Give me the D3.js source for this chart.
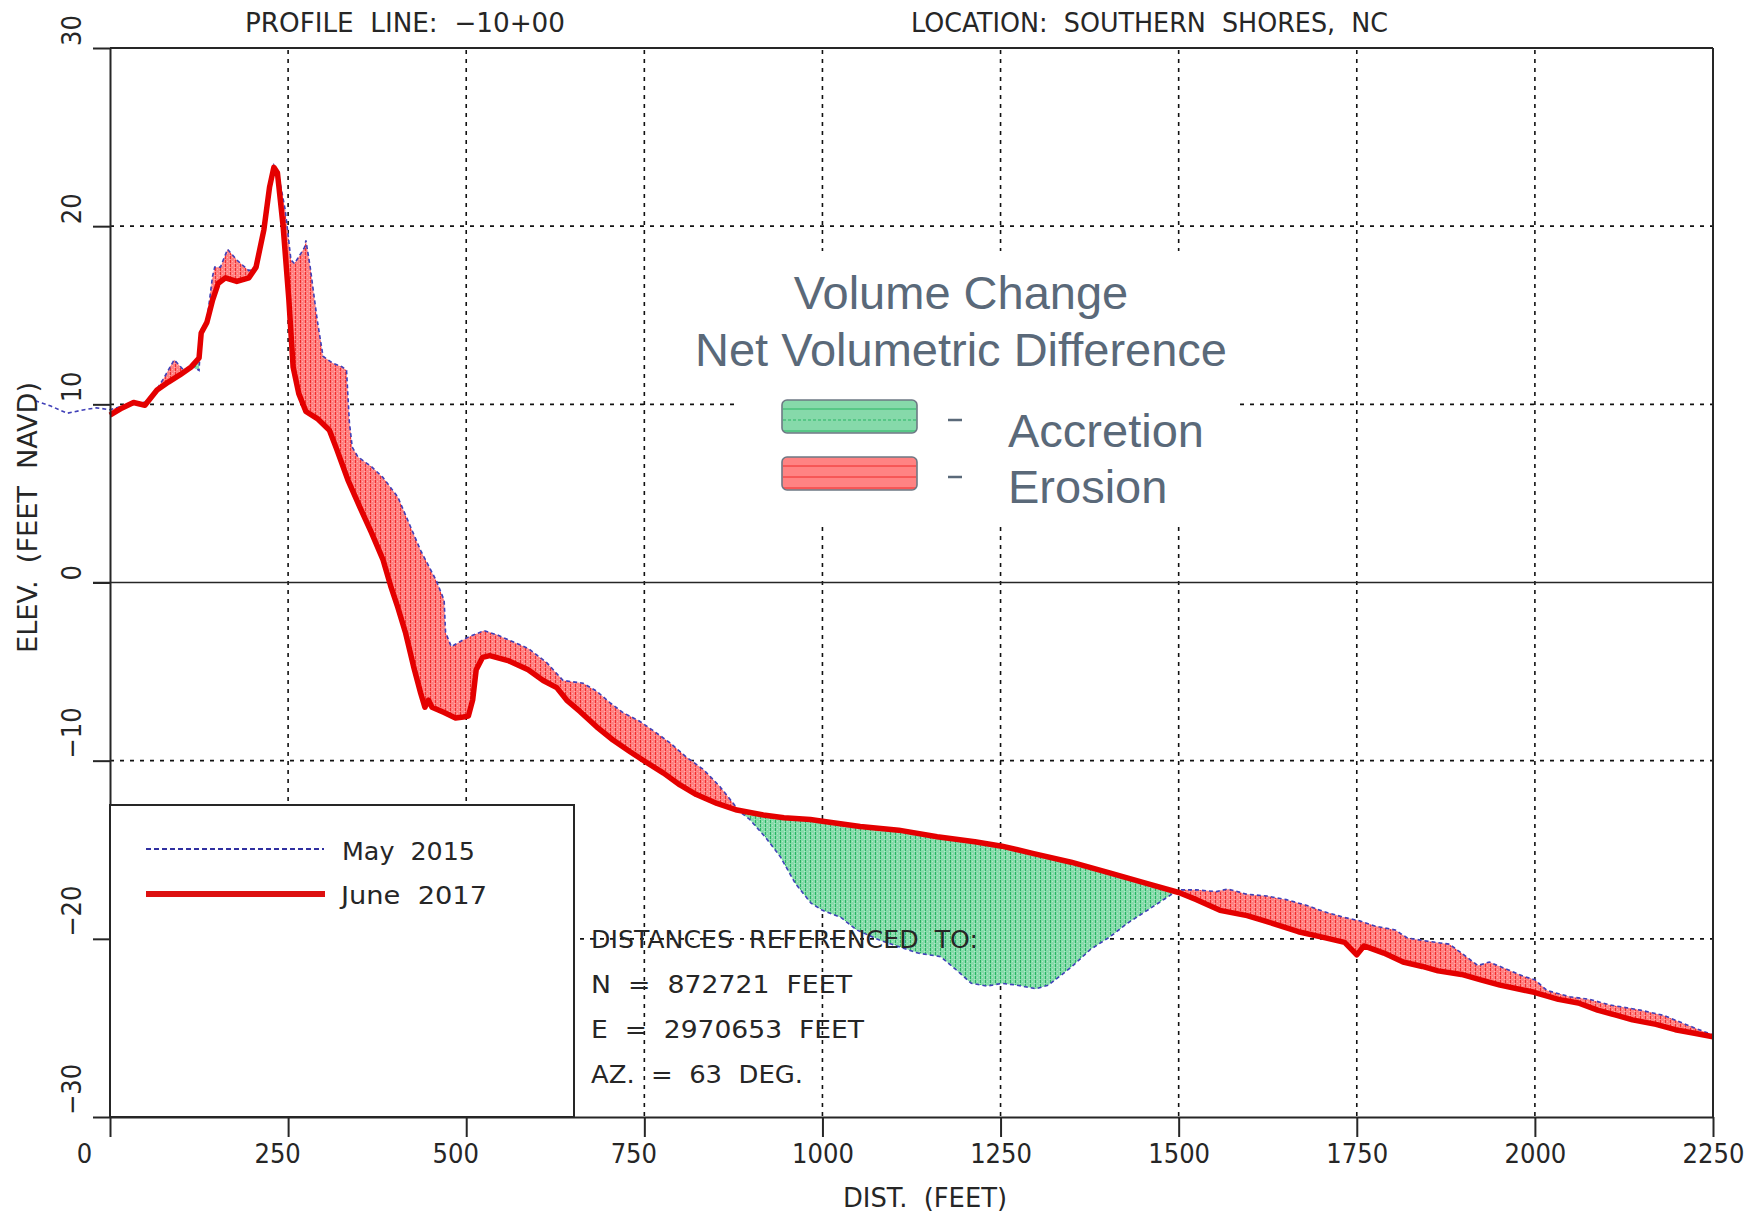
<!DOCTYPE html>
<html><head><meta charset="utf-8">
<script src="https://cdn.jsdelivr.net/npm/d3@7"></script>
<style>body{margin:0;background:#fff} text{white-space:pre}</style>
</head><body><svg id="c" width="1760" height="1215"></svg>
<script>
// ---- data (distance in feet, elevation in feet NAVD) ----
const juneDist = [0,17,33,49,66,82,98,114,125,128,136,144,152,162,178,195,205,216,224,230,235,243,251,257,265,275,291,308,318,334,351,367,383,394,404,415,426,436,442,447,452,469,485,496,503,509,514,523,533,560,587,608,627,641,660,683,706,730,751,777,800,823,852,880,917,946,983,1000,1053,1107,1161,1214,1252,1295,1349,1403,1456,1500,1525,1558,1596,1624,1668,1706,1733,1750,1760,1788,1815,1842,1864,1897,1924,1951,1999,2033,2061,2088,2115,2137,2170,2197,2224,2250];
const juneElev = [9.4,9.8,10.1,9.95,10.8,11.25,11.65,12.1,12.6,14.0,14.6,15.85,16.8,17.1,16.9,17.1,17.7,19.8,22.2,23.3,23.0,20.0,15.9,12.1,10.6,9.6,9.2,8.55,7.5,5.75,4.2,2.8,1.3,-0.2,-1.4,-2.85,-4.7,-6.2,-7.0,-6.6,-7.0,-7.3,-7.6,-7.55,-7.5,-6.6,-4.9,-4.2,-4.1,-4.4,-4.9,-5.5,-5.9,-6.6,-7.25,-8.1,-8.84,-9.5,-10.05,-10.7,-11.36,-11.9,-12.4,-12.77,-13.05,-13.2,-13.3,-13.4,-13.7,-13.9,-14.27,-14.55,-14.8,-15.2,-15.7,-16.3,-16.9,-17.4,-17.8,-18.4,-18.7,-19.03,-19.6,-19.95,-20.2,-20.9,-20.4,-20.8,-21.3,-21.55,-21.8,-22.0,-22.3,-22.6,-23.0,-23.4,-23.6,-24.0,-24.3,-24.55,-24.8,-25.1,-25.3,-25.5];
const mayDist = [-105,-83,-60,-36,-19,0,17,33,49,66,76,90,104,114,125,128,136,144,147,155,165,178,195,205,216,224,230,238,246,254,259,273,275,281,291,299,313,326,332,336,340,348,367,383,404,420,436,458,469,471,479,501,525,544,587,613,636,664,683,702,720,744,762,786,809,833,856,875,882,898,920,941,962,984,1000,1026,1048,1080,1134,1166,1188,1209,1231,1252,1273,1300,1317,1349,1376,1403,1429,1456,1494,1504,1525,1553,1569,1596,1624,1651,1678,1706,1733,1755,1777,1804,1821,1852,1880,1897,1920,1936,1963,1984,2000,2017,2049,2077,2104,2148,2181,2224,2250];
const mayElev = [10.2,9.9,9.5,9.7,9.8,9.7,9.9,10.15,10.1,10.85,11.5,12.5,11.9,12.15,11.9,14.2,14.7,17.2,17.7,17.7,18.7,18.1,17.5,17.75,19.9,22.3,23.4,22.6,20.9,18.1,17.9,18.8,19.2,17.7,14.7,12.7,12.3,12.1,11.9,9.0,7.6,7.05,6.5,5.9,4.8,3.3,1.8,0.1,-1.0,-2.8,-3.6,-3.1,-2.7,-2.95,-3.7,-4.5,-5.5,-5.65,-6.1,-6.75,-7.3,-7.8,-8.3,-9.0,-9.8,-10.5,-11.45,-12.4,-12.8,-13.3,-14.3,-15.4,-16.9,-18.0,-18.4,-18.8,-19.5,-20.07,-20.8,-21.0,-21.75,-22.5,-22.65,-22.5,-22.6,-22.8,-22.6,-21.6,-20.6,-19.9,-19.1,-18.4,-17.4,-17.25,-17.25,-17.35,-17.2,-17.5,-17.6,-17.8,-18.1,-18.5,-18.8,-19.0,-19.3,-19.5,-19.95,-20.15,-20.3,-20.8,-21.5,-21.3,-21.75,-22.1,-22.3,-22.9,-23.25,-23.4,-23.7,-24.0,-24.3,-25.0,-25.4];
const xTickValues = [0,250,500,750,1000,1250,1500,1750,2000,2250];
const xTickLabels = ["0","250","500","750","1000","1250","1500","1750","2000","2250"];
const yTickValues = [30,20,10,0,-10,-20,-30];
const yTickLabels = ["30","20","10","0","\u221210","\u221220","\u221230"];
const seriesNames = ["May  2015","June  2017"];
const refLines = ["DISTANCES  REFERENCED  TO:","N  =  872721  FEET","E  =  2970653  FEET","AZ.  =  63  DEG."];
const titleLeft = "PROFILE  LINE:  \u221210+00";
const titleRight = "LOCATION:  SOUTHERN  SHORES,  NC";
const xTitle = "DIST.  (FEET)";
const yTitle = "ELEV.  (FEET  NAVD)";
const volTitles = ["Volume Change","Net Volumetric Difference"];
const volItems = ["Accretion","Erosion"];

const june = juneDist.map((d,i)=>({d, e: juneElev[i]}));
const may = mayDist.map((d,i)=>({d, e: mayElev[i]}));

const svg = d3.select("#c");
const L=110, R=1713, T=48, B=1117;
const x = d3.scaleLinear().domain([0,2250]).range([L,R]);
const y = d3.scaleLinear().domain([-30,30]).range([B,T]);
const FONT = "'DejaVu Sans Condensed','DejaVu Sans',sans-serif";
const INK = "#262626";

svg.append("rect").attr("width",1760).attr("height",1215).attr("fill","#fff");

const defs = svg.append("defs");
function hatch(id, base, stripe){
  const p = defs.append("pattern").attr("id",id).attr("patternUnits","userSpaceOnUse")
    .attr("width",5).attr("height",4);
  p.append("rect").attr("width",5).attr("height",4).attr("fill",base);
  p.append("rect").attr("x",2).attr("y",1).attr("width",1).attr("height",1).attr("fill","#fff").attr("opacity",0.35);
  p.append("rect").attr("x",4).attr("y",3).attr("width",1).attr("height",1).attr("fill","#fff").attr("opacity",0.35);
  p.append("rect").attr("x",0).attr("y",0).attr("width",1).attr("height",3).attr("fill",stripe);
}
hatch("redHatch","#ff8080","#f02e2e");
hatch("greenHatch","#86dbaa","#27b563");

// clip regions
const aboveCurve = d3.area().x(p=>x(p.d)).y0(T).y1(p=>y(p.e));
defs.append("clipPath").attr("id","cAboveJune").append("path").attr("d",aboveCurve(june));
defs.append("clipPath").attr("id","cAboveMay").append("path").attr("d",aboveCurve(may.filter(p=>p.d>=0)));

// grid
const grid = svg.append("g");
xTickValues.filter(v=>v>0 && v<2250).forEach(v=>{
  grid.append("line").attr("x1",x(v)).attr("x2",x(v)).attr("y1",T+2).attr("y2",B)
    .attr("stroke","#111").attr("stroke-width",1.6).attr("stroke-dasharray","4,5");
});
yTickValues.filter(v=>v!==0 && v!==30 && v!==-30).forEach(v=>{
  grid.append("line").attr("x1",L).attr("x2",R).attr("y1",y(v)).attr("y2",y(v))
    .attr("stroke","#111").attr("stroke-width",1.6).attr("stroke-dasharray","4,6");
});
// zero line
svg.append("line").attr("x1",L-17).attr("x2",R).attr("y1",y(0)).attr("y2",y(0))
  .attr("stroke",INK).attr("stroke-width",1.6);

// white panel behind the volume change key
svg.append("rect").attr("x",734).attr("y",251).attr("width",500).attr("height",276).attr("fill","#fff");

// fills
const under = d3.area().x(p=>x(p.d)).y0(B).y1(p=>y(p.e));
svg.append("path").attr("d",under(may.filter(p=>p.d>=0))).attr("fill","url(#redHatch)").attr("clip-path","url(#cAboveJune)");
svg.append("path").attr("d",under(june)).attr("fill","url(#greenHatch)").attr("clip-path","url(#cAboveMay)");

// lines
const line = d3.line().x(p=>x(p.d)).y(p=>y(p.e));
svg.append("path").attr("d",line(may)).attr("fill","none").attr("stroke","#4040b8")
  .attr("stroke-width",1.6).attr("stroke-dasharray","4,3");
svg.append("path").attr("d",line(june)).attr("fill","none").attr("stroke","#e40000")
  .attr("stroke-width",5.5).attr("stroke-linejoin","round");

// axes
const xAxis = svg.append("g").attr("transform",`translate(0,${B})`)
  .call(d3.axisBottom(x).tickValues(xTickValues).tickSize(20).tickSizeOuter(0).tickFormat((d,i)=>xTickLabels[i]));
xAxis.select(".domain").attr("stroke",INK).attr("stroke-width",2);
xAxis.selectAll(".tick line").attr("stroke",INK).attr("stroke-width",2);
xAxis.selectAll(".tick text").attr("font-family",FONT).attr("font-size",27).attr("fill",INK)
  .attr("y",46).attr("dy",0)
  .attr("dx",(d,i)=>{const n=xTickLabels[i].length; return n===1?-26:(n===3?-11:0);});

const yAxis = svg.append("g").attr("transform",`translate(${L},0)`)
  .call(d3.axisLeft(y).tickValues(yTickValues).tickSize(17).tickSizeOuter(0).tickFormat(""));
yAxis.select(".domain").attr("stroke",INK).attr("stroke-width",2);
yAxis.selectAll(".tick line").attr("stroke",INK).attr("stroke-width",2);
yTickValues.forEach((v,i)=>{
  svg.append("text").attr("transform",`translate(81,${y(v)-2}) rotate(-90)`)
    .attr("font-family",FONT).attr("font-size",27).attr("fill",INK).text(yTickLabels[i]);
});
// frame top/right
svg.append("line").attr("x1",L).attr("x2",R).attr("y1",T).attr("y2",T).attr("stroke",INK).attr("stroke-width",2);
svg.append("line").attr("x1",R).attr("x2",R).attr("y1",T).attr("y2",B).attr("stroke",INK).attr("stroke-width",2);

// titles
function txt(s, xx, yy, size, len){
  const t = svg.append("text").attr("x",xx).attr("y",yy).attr("font-family",FONT).attr("font-size",size)
    .attr("fill",INK).text(s);
  if(len){ t.attr("textLength",len).attr("lengthAdjust","spacingAndGlyphs"); }
  return t;
}
txt(titleLeft,245,32,27,320);
txt(titleRight,911,32,27,477);
txt(xTitle,843,1207,27,164);
svg.append("text").attr("transform","translate(37,653) rotate(-90)").attr("font-family",FONT)
  .attr("font-size",27).attr("fill",INK).attr("textLength",271).attr("lengthAdjust","spacingAndGlyphs").text(yTitle);

// line legend box
svg.append("rect").attr("x",L).attr("y",805).attr("width",574-L).attr("height",B-805)
  .attr("fill","#fff").attr("stroke",INK).attr("stroke-width",2);
svg.append("line").attr("x1",146).attr("x2",324).attr("y1",849).attr("y2",849)
  .attr("stroke","#3030a0").attr("stroke-width",1.8).attr("stroke-dasharray","5,3");
svg.append("line").attr("x1",146).attr("x2",325).attr("y1",894).attr("y2",894)
  .attr("stroke","#dd1010").attr("stroke-width",6);
txt(seriesNames[0],342,860,25,133);
txt(seriesNames[1],341,904,25,146);

// reference block
const refLen=[387,261,273,212];
refLines.forEach((s,i)=>txt(s,591,948+45*i,25,refLen[i]));

// volume change key
const VC = "#5a6979";
const VF = "'Liberation Sans',Arial,sans-serif";
volTitles.forEach((s,i)=>{
  svg.append("text").attr("x",961).attr("y",309+57*i).attr("text-anchor","middle")
    .attr("font-family",VF).attr("font-size",47).attr("fill",VC).text(s);
});
const sw = [{fill:"#86d9aa",ln:"#2bb565"},{fill:"#ff8383",ln:"#ee2a2a"}];
sw.forEach((c,i)=>{
  const y0 = 400+57*i;
  svg.append("rect").attr("x",782).attr("y",y0).attr("width",135).attr("height",33).attr("rx",5)
    .attr("fill",c.fill);
  [9,20,31].forEach((o,k)=>{
    svg.append("line").attr("x1",783).attr("x2",916).attr("y1",y0+o).attr("y2",y0+o)
      .attr("stroke",c.ln).attr("stroke-width",1).attr("stroke-dasharray",(i===0&&k===1)?"3,2":null);
  });
  svg.append("rect").attr("x",782).attr("y",y0).attr("width",135).attr("height",33).attr("rx",5)
    .attr("fill","none").attr("stroke","#6d7884").attr("stroke-width",1.6);
  svg.append("line").attr("x1",948).attr("x2",962).attr("y1",y0+20).attr("y2",y0+20)
    .attr("stroke",VC).attr("stroke-width",2.5);
  svg.append("text").attr("x",1008).attr("y",447+56*i).attr("font-family",VF).attr("font-size",47)
    .attr("fill",VC).text(volItems[i]);
});
</script></body></html>
